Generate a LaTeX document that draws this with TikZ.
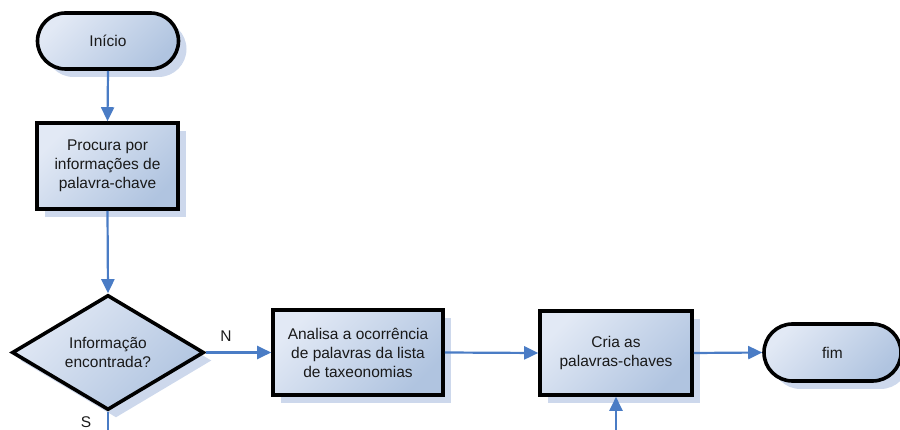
\documentclass[tikz,border=0pt]{standalone}
\usepackage{fontspec}
\setmainfont{Liberation Sans}
\usetikzlibrary{shapes.geometric,shapes.misc,shadows,arrows.meta}

\definecolor{boxlight}{RGB}{226,233,245}
\definecolor{boxdark}{RGB}{176,196,224}
\definecolor{shadowblue}{RGB}{205,216,236}
\definecolor{flowblue}{RGB}{74,124,197}

\tikzset{
  base/.style={draw=black, line width=3.6pt, text=black!90,
    top color=boxlight, bottom color=boxdark, shading angle=45,
    font=\fontsize{15.5}{19}\selectfont, align=center, inner sep=0pt,
    drop shadow={shadow xshift=8pt, shadow yshift=-8pt, fill=shadowblue, opacity=1}},
  terminal/.style={base, rounded rectangle, minimum width=141pt, minimum height=56pt},
  process/.style={base, rectangle, line join=miter},
  decision/.style={base, diamond, aspect=1.67, minimum width=192pt, minimum height=115pt},
  flow/.style={draw=flowblue, line width=2.2pt, -{Triangle[length=14pt,width=13pt]}},
  plainflow/.style={draw=flowblue, line width=2.2pt},
  lbl/.style={font=\fontsize{15.5}{17}\selectfont, text=black!90}
}

\begin{document}
\begin{tikzpicture}[x=1pt,y=-1pt]
  \useasboundingbox (0,0) rectangle (900,430);
  \clip (0,0) rectangle (900,430);

  \node[terminal] (inicio) at (108,41) {Início};
  \node[process, minimum width=141pt, minimum height=86pt] (procura) at (107.5,166)
    {Procura por\\informações de\\palavra-chave};
  \node[decision] (decisao) at (108,352.5) {Informação\\encontrada?};
  \node[process, minimum width=170pt, minimum height=85pt] (analisa) at (358,352.5)
    {Analisa a ocorrência\\de palavras da lista\\de taxeonomias};
  \node[process, minimum width=152pt, minimum height=84pt] (cria) at (616,353)
    {Cria as\\palavras-chaves};
  \node[terminal, minimum width=137pt, minimum height=57pt] (fim) at (832.5,352.5) {fim};

  \coordinate (sdown) at (108,431);
  \coordinate (crialow) at (616,431);

  \draw[flow] (inicio.south) -- (procura.north);
  \draw[flow] (procura.south) -- (decisao.north);
  \draw[flow] (decisao.east) -- (analisa.west);
  \draw[flow] (analisa.east) -- (cria.west);
  \draw[flow] (cria.east) -- (fim.west);
  \draw[plainflow] (decisao.south) -- (sdown);
  \draw[flow] (crialow) -- (cria.south);

  \node[lbl] (nlabel) at (226,336) {N};
  \node[lbl] (slabel) at (86,422) {S};
\end{tikzpicture}
\end{document}
